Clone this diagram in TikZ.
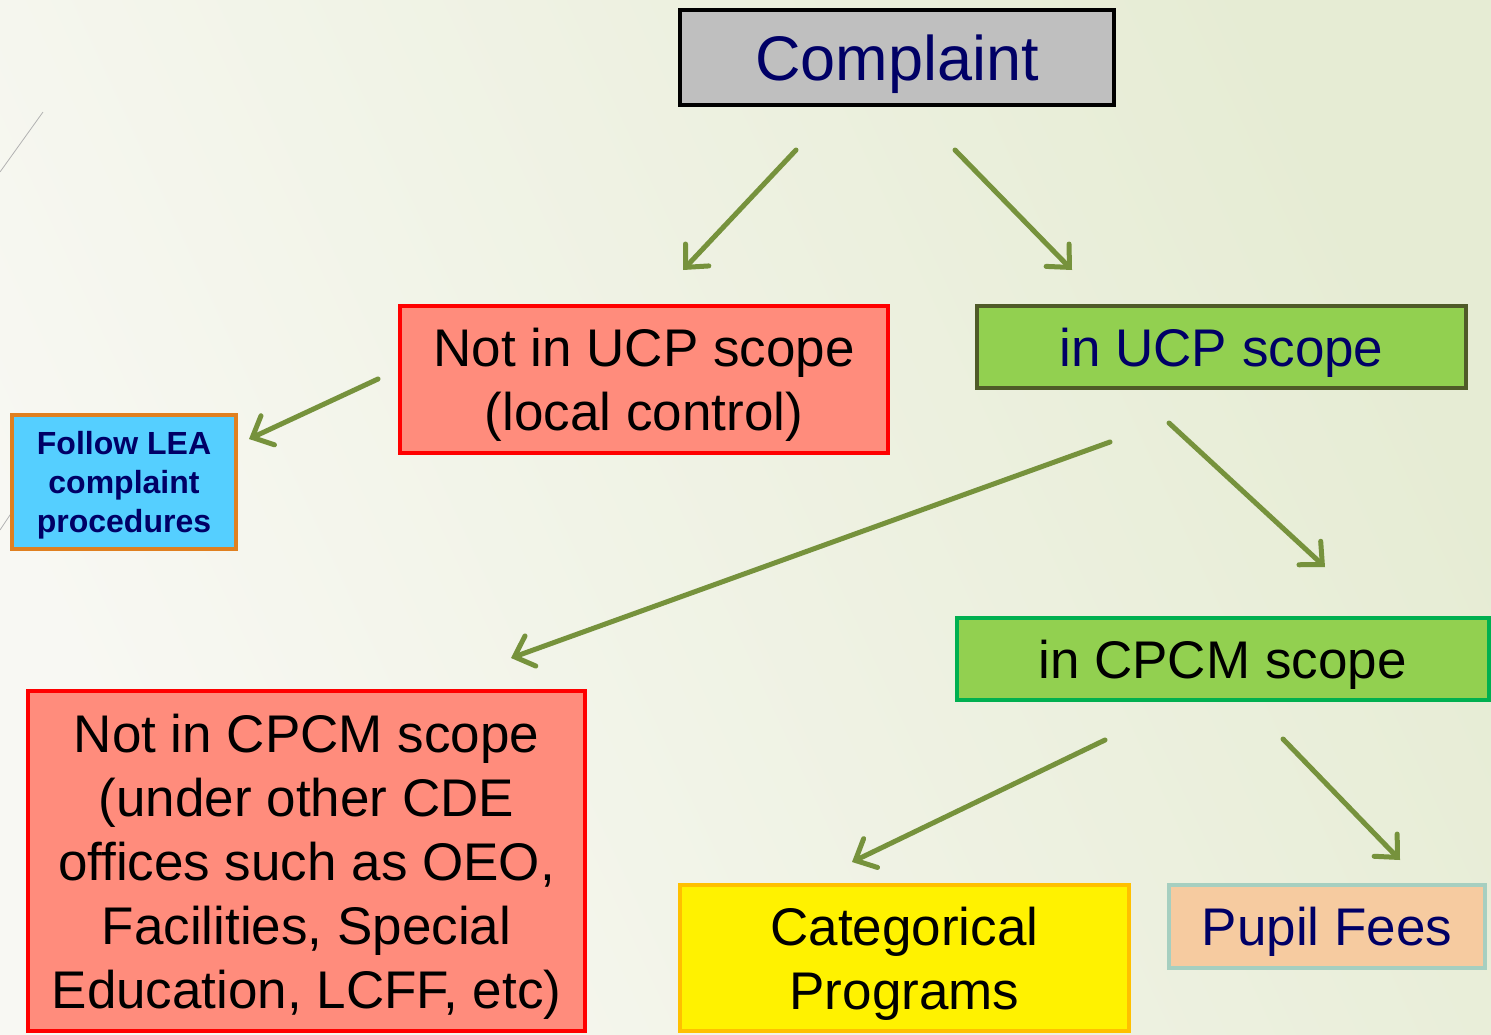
\documentclass[tikz,border=0pt]{standalone}
\usepackage{fontspec}
\setmainfont{Liberation Sans}
\usepackage{xcolor}
\usetikzlibrary{arrows.meta, positioning, calc}
\definecolor{Navy}{HTML}{000066}
\definecolor{BoxGray}{HTML}{BFBFBF}
\definecolor{Salmon}{HTML}{FF8C7C}
\definecolor{Leaf}{HTML}{92D050}
\definecolor{Olive}{HTML}{4F5A28}
\definecolor{Emerald}{HTML}{00B050}
\definecolor{Sky}{HTML}{55CFFF}
\definecolor{Amber}{HTML}{E08020}
\definecolor{Gold}{HTML}{FFC000}
\definecolor{Peach}{HTML}{F6CBA0}
\definecolor{Teal}{HTML}{A6CFC0}
\definecolor{ArrowGreen}{HTML}{76923C}
\definecolor{BgLight}{HTML}{F8F8F3}
\definecolor{BgGreen}{HTML}{E6ECD4}

\begin{document}
\begin{tikzpicture}[x=1pt, y=-1pt,
    box/.style={draw, line width=4pt, inner sep=0pt, align=center, text depth=0pt,
        font=\fontsize{53}{64}\selectfont},
    flow/.style={-{Straight Barb[length=17pt, width=32pt, line cap=round]},
        line width=5pt, line cap=round, ArrowGreen}]
    % background
    \shade[left color=BgLight, right color=BgGreen, shading angle=115] (0,0) rectangle (1491,1034);
    \useasboundingbox (0,0) rectangle (1491,1034);
    \draw[gray!60, line width=0.8pt] (43,112) -- (0,172);
    \draw[gray!60, line width=0.8pt] (12,512) -- (0,530);

    % boxes
    \node (comp) [box, fill=BoxGray, draw=black, text=Navy, minimum width=434, minimum height=95,
        font=\fontsize{63}{70}\selectfont] at (897,57.5) {Complaint};
    \node (nucp) [box, fill=Salmon, draw=red, text=black, minimum width=488, minimum height=147] at (644,379.5)
        {Not in UCP scope\\(local control)};
    \node (ucp) [box, fill=Leaf, draw=Olive, text=Navy, minimum width=489, minimum height=82] at (1221.5,347)
        {in UCP scope};
    \node (lea) [box, fill=Sky, draw=Amber, text=Navy, minimum width=224, minimum height=134,
        font=\fontsize{32}{39}\selectfont\bfseries] at (124,482)
        {Follow LEA\\complaint\\procedures};
    \node (cpcm) [box, fill=Leaf, draw=Emerald, text=black, minimum width=532, minimum height=82] at (1222.5,659)
        {in CPCM scope};
    \node (ncpcm) [box, fill=Salmon, draw=red, text=black, minimum width=557, minimum height=340] at (306.5,861)
        {Not in CPCM scope\\(under other CDE\\offices such as OEO,\\Facilities, Special\\Education, LCFF, etc)};
    \node (cat) [box, fill=yellow, draw=Gold, text=black, minimum width=449, minimum height=146] at (904.5,958)
        {Categorical\\Programs};
    \node (fees) [box, fill=Peach, draw=Teal, text=Navy, minimum width=316, minimum height=83] at (1327,926.5)
        {Pupil Fees};

    % arrow ends
    \coordinate (c1) at (796,150);  \coordinate (c2) at (683,270);
    \coordinate (c3) at (955,150);  \coordinate (c4) at (1072,270);
    \coordinate (c5) at (378,379);  \coordinate (c6) at (249,439);
    \coordinate (c7) at (1110,442); \coordinate (c8) at (511,658);
    \coordinate (c9) at (1169,423); \coordinate (c10) at (1325,567);
    \coordinate (c11) at (1105,740); \coordinate (c12) at (852,862);
    \coordinate (c13) at (1283,739); \coordinate (c14) at (1400,860);

    \draw[flow] (c1) -- (c2);
    \draw[flow] (c3) -- (c4);
    \draw[flow] (c5) -- (c6);
    \draw[flow] (c7) -- (c8);
    \draw[flow] (c9) -- (c10);
    \draw[flow] (c11) -- (c12);
    \draw[flow] (c13) -- (c14);
\end{tikzpicture}
\end{document}
